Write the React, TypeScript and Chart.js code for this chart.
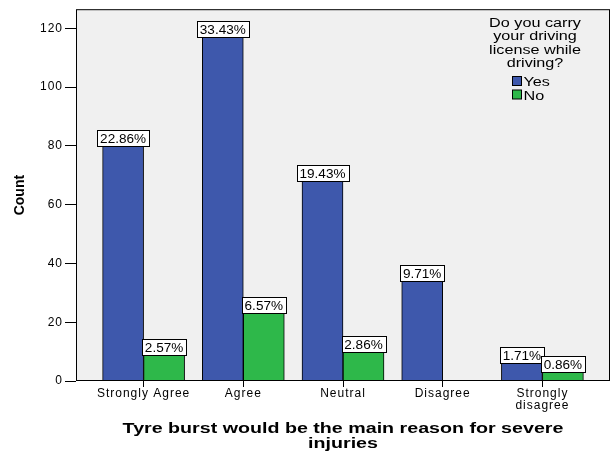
import { useEffect, useRef } from "react";
import { Chart, registerables } from "chart.js";

Chart.register(...registerables);

// Response categories on the x axis (last one wraps onto two lines)
const categories: (string | string[])[] = [
  "Strongly Agree",
  "Agree",
  "Neutral",
  "Disagree",
  ["Strongly", "disagree"],
];

// Counts per category for each answer
const yesCounts: (number | null)[] = [80, 117, 68, 34, 6];
const noCounts: (number | null)[] = [9, 23, 10, null, 3];
const totalRespondents = 350;

const yTicks = [0, 20, 40, 60, 80, 100, 120];
const yMax = 126.5;

const seriesNames = ["Yes", "No"];
const seriesColors = ["#3e58ac", "#2eb84a"];
const legendTitle = ["Do you carry", "your driving", "license while", "driving?"];
const xTitle = ["Tyre burst would be the main reason for severe", "injuries"];
const yTitle = "Count";

const FONT = "'Liberation Sans', Arial, sans-serif";

// Draw text stretched horizontally by sx
function drawText(
  ctx: CanvasRenderingContext2D,
  text: string,
  x: number,
  y: number,
  font: string,
  align: "left" | "center" | "right",
  sx: number
) {
  ctx.save();
  (ctx as any).letterSpacing = "0px";
  ctx.font = font;
  ctx.textBaseline = "alphabetic";
  ctx.textAlign = "left";
  const w = ctx.measureText(text).width * sx;
  const left = align === "center" ? x - w / 2 : align === "right" ? x - w : x;
  ctx.translate(left, y);
  ctx.scale(sx, 1);
  ctx.fillStyle = "#000";
  ctx.fillText(text, 0, 0);
  ctx.restore();
}

const decorations = {
  id: "decorations",
  beforeDraw(chart: any) {
    const { ctx, chartArea: a } = chart;
    ctx.save();
    ctx.fillStyle = "#f0f0f0";
    ctx.fillRect(a.left, a.top, a.right - a.left, a.bottom - a.top);
    ctx.restore();
    (ctx as any).letterSpacing = "1px";
  },
  afterDatasetsDraw(chart: any) {
    const { ctx, chartArea: a } = chart;
    // plot frame
    ctx.save();
    ctx.strokeStyle = "#000";
    ctx.lineWidth = 1;
    ctx.strokeRect(a.left + 0.5, a.top + 0.5, a.right - a.left - 1, a.bottom - a.top - 1);
    ctx.restore();

    // percentage labels above each bar
    chart.data.datasets.forEach((ds: any, i: number) => {
      const meta = chart.getDatasetMeta(i);
      meta.data.forEach((bar: any, j: number) => {
        const v = ds.data[j]?.y;
        if (v === null || v === undefined) return;
        const text = ((v / totalRespondents) * 100).toFixed(2) + "%";
        const font = `12px ${FONT}`;
        const sx = 1.13;
        ctx.save();
        (ctx as any).letterSpacing = "0px";
        ctx.font = font;
        const tw = ctx.measureText(text).width * sx;
        const bw = Math.round(tw + 6);
        const bh = 16;
        const bx = Math.round(bar.x - bw / 2) + 0.5;
        const by = Math.round(bar.y) - bh + 0.5;
        ctx.fillStyle = "#fff";
        ctx.fillRect(bx, by, bw, bh);
        ctx.strokeStyle = "#000";
        ctx.lineWidth = 1;
        ctx.strokeRect(bx, by, bw, bh);
        ctx.restore();
        drawText(ctx, text, bar.x, by + bh - 3.5, font, "center", sx);
      });
    });

    // legend inside the plot
    const lx = 535;
    const legendFont = `12px ${FONT}`;
    legendTitle.forEach((line, k) => {
      drawText(ctx, line, lx, 26.5 + k * 13.6, legendFont, "center", 1.35);
    });
    seriesNames.forEach((name, k) => {
      const y0 = 76.5 + k * 13.5;
      ctx.save();
      ctx.fillStyle = seriesColors[k];
      ctx.fillRect(512.5, y0, 9, 9);
      ctx.strokeStyle = "#000";
      ctx.lineWidth = 1;
      ctx.strokeRect(512.5, y0, 9, 9);
      ctx.restore();
      drawText(ctx, name, 523.5, y0 + 9.5, legendFont, "left", 1.35);
    });

    // axis titles
    const cx = (a.left + a.right) / 2;
    drawText(ctx, xTitle[0], cx, 432.5, `bold 15px ${FONT}`, "center", 1.31);
    drawText(ctx, xTitle[1], cx, 447.5, `bold 15px ${FONT}`, "center", 1.31);

    ctx.save();
    (ctx as any).letterSpacing = "0px";
    ctx.translate(20, (a.top + a.bottom) / 2);
    ctx.rotate(-Math.PI / 2);
    ctx.font = `bold 14px ${FONT}`;
    ctx.textAlign = "center";
    ctx.textBaseline = "middle";
    ctx.fillStyle = "#000";
    ctx.fillText(yTitle, 0, 0);
    ctx.restore();
  },
};

export default function App() {
  const canvasRef = useRef<HTMLCanvasElement | null>(null);

  useEffect(() => {
    const canvas = canvasRef.current;
    if (!canvas) return;
    const toPoints = (arr: (number | null)[]) => arr.map((y, x) => ({ x, y }));

    const chart = new Chart(canvas, {
      type: "bar",
      data: {
        datasets: [
          {
            label: seriesNames[0],
            data: toPoints(yesCounts) as any,
            backgroundColor: seriesColors[0],
            borderColor: "#000",
            borderWidth: 1,
            barThickness: 41,
          },
          {
            label: seriesNames[1],
            data: toPoints(noCounts) as any,
            backgroundColor: seriesColors[1],
            borderColor: "#000",
            borderWidth: 1,
            barThickness: 41,
          },
        ],
      },
      options: {
        responsive: false,
        animation: false,
        events: [],
        layout: { padding: { top: 7, right: 3, left: 0, bottom: 0 } },
        plugins: {
          legend: { display: false },
          tooltip: { enabled: false },
        },
        scales: {
          x: {
            type: "linear",
            min: -0.678,
            max: 4.678,
            offset: false,
            afterBuildTicks: (scale: any) => {
              scale.ticks = categories.map((_, i) => ({ value: i }));
            },
            afterFit: (scale: any) => {
              scale.height = 70;
            },
            border: { display: false },
            grid: {
              display: true,
              offset: false,
              drawOnChartArea: false,
              drawTicks: true,
              tickLength: 6,
              color: "#000",
            },
            ticks: {
              autoSkip: false,
              maxRotation: 0,
              minRotation: 0,
              padding: 1,
              color: "#000",
              font: { family: FONT, size: 12, lineHeight: 1.0 },
              callback: (value: any) => categories[Math.round(Number(value))] as any,
            },
          },
          y: {
            type: "linear",
            min: 0,
            max: yMax,
            afterBuildTicks: (scale: any) => {
              scale.ticks = yTicks.map((value) => ({ value }));
            },
            afterFit: (scale: any) => {
              scale.width = 76;
            },
            border: { display: false },
            grid: {
              display: true,
              drawOnChartArea: false,
              drawTicks: true,
              tickLength: 11,
              color: "#000",
            },
            ticks: {
              padding: 2,
              color: "#000",
              font: { family: FONT, size: 12 },
            },
          },
        },
      },
      plugins: [decorations],
    });

    return () => chart.destroy();
  }, []);

  return (
    <div style={{ position: "fixed", left: 0, top: 0, width: 613, height: 451, background: "#fff" }}>
      <canvas ref={canvasRef} width={613} height={451} style={{ display: "block" }} />
    </div>
  );
}
